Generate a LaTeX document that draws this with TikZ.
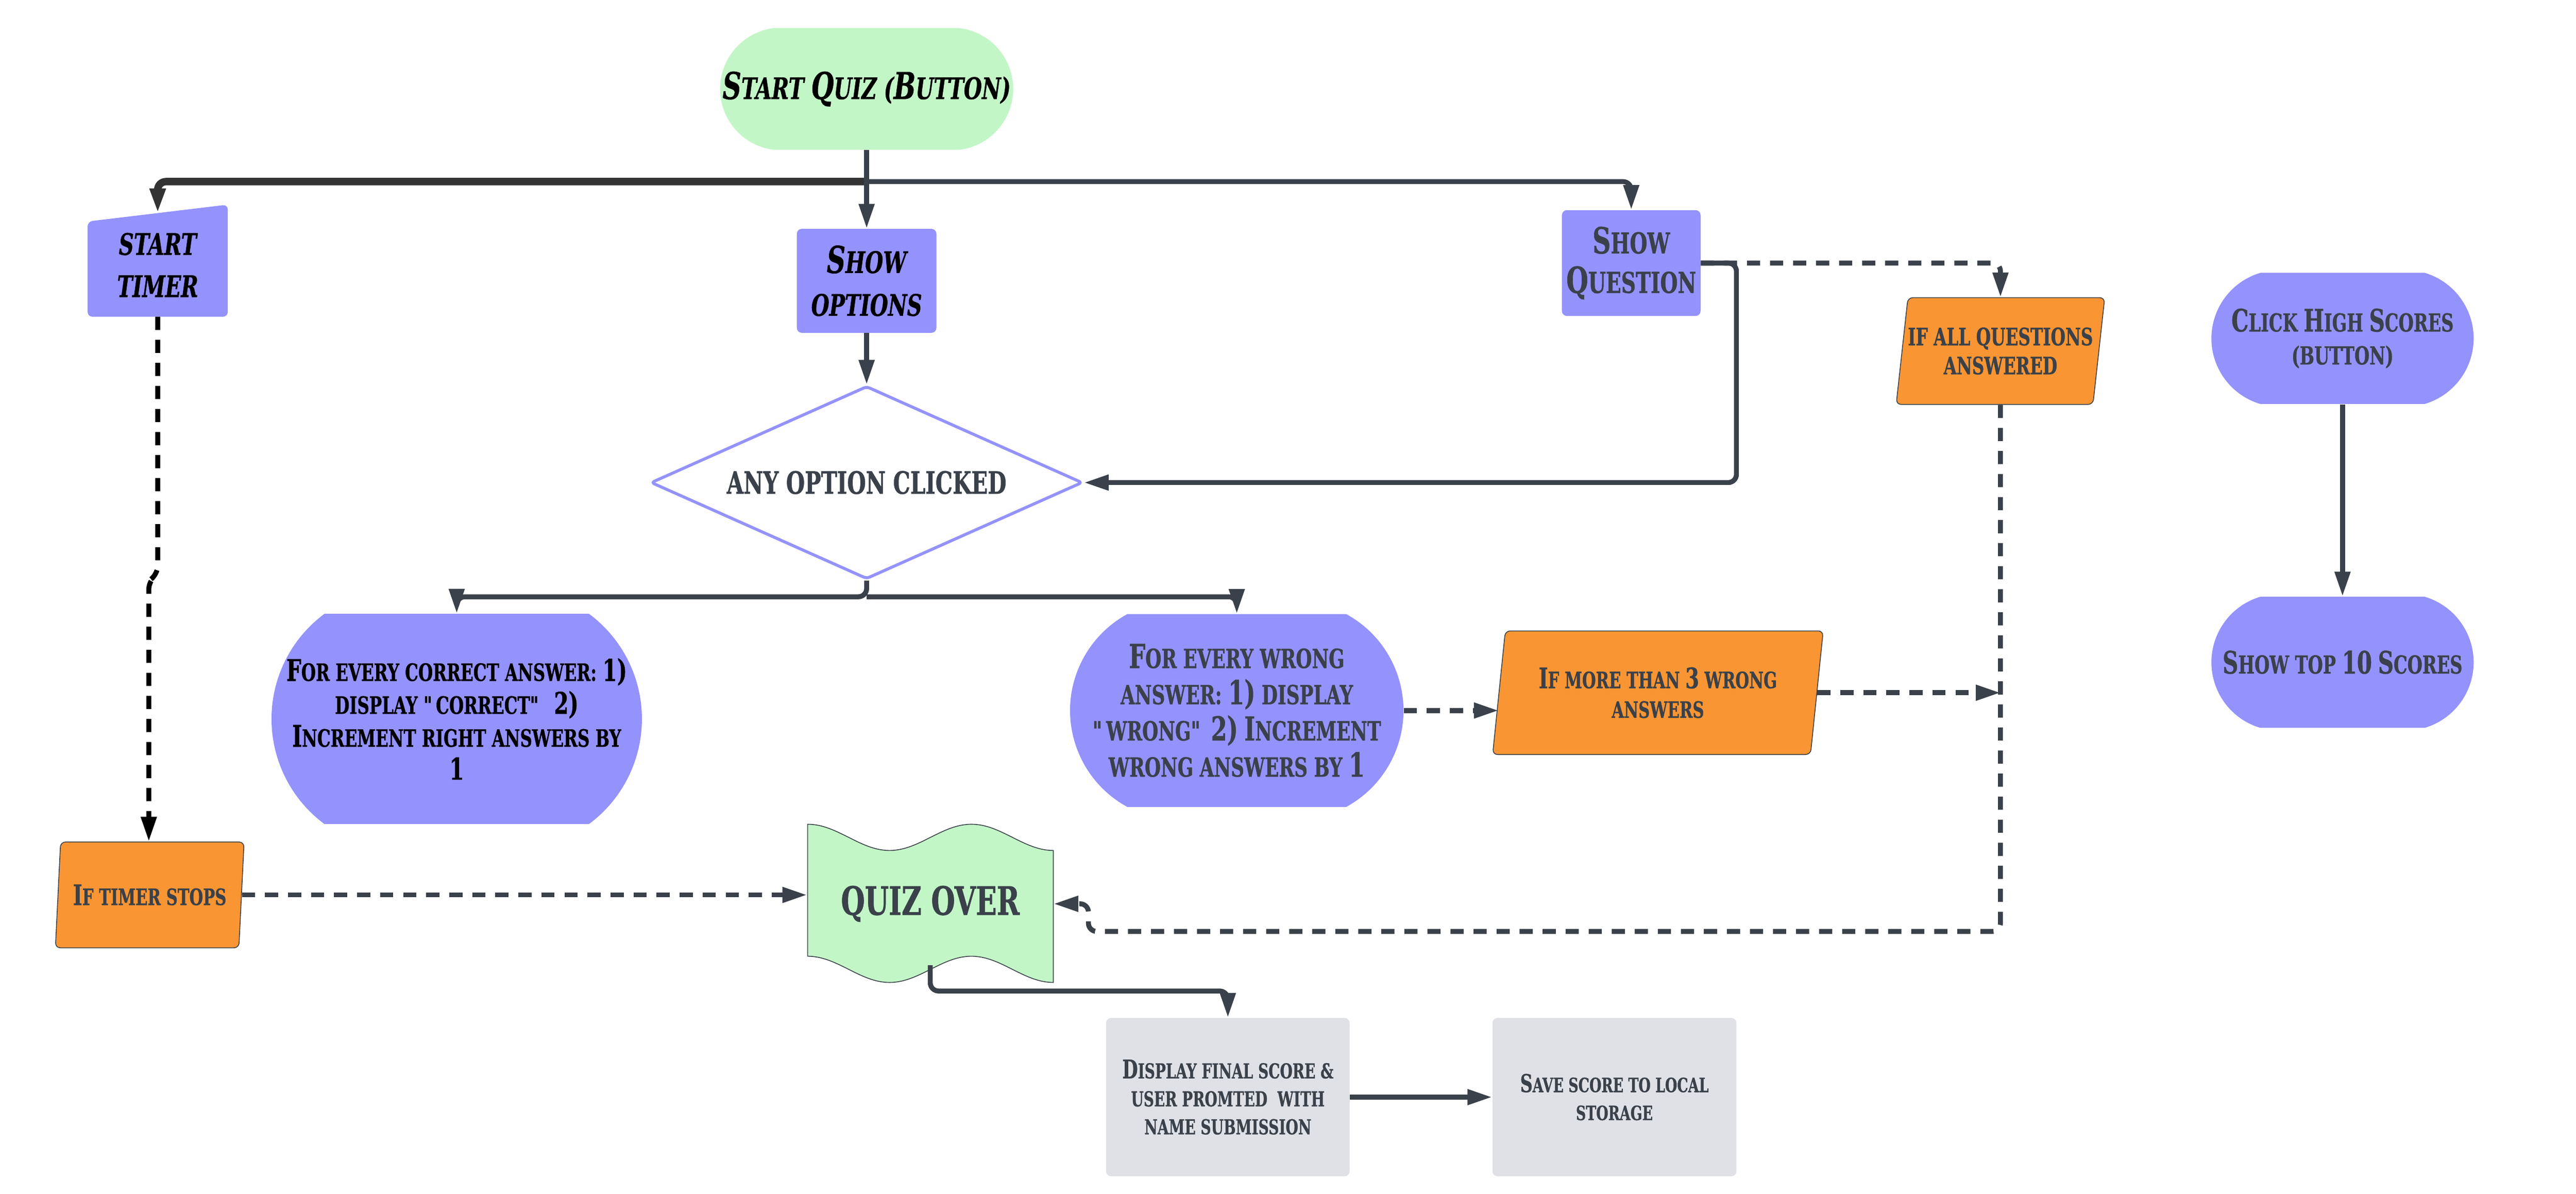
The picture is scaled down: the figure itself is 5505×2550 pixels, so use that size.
\documentclass[tikz,border=0pt]{standalone}
\usepackage{fontspec}
\setmainfont{DejaVu Serif}[FakeStretch=0.7, UprightFont=* Bold, ItalicFont=* Bold Italic,
  UprightFeatures={FakeBold=0.8}, ItalicFeatures={FakeBold=0.8}]
\usetikzlibrary{arrows.meta,shapes.geometric,shapes.misc,backgrounds}
\definecolor{qpurple}{RGB}{148,146,252}
\definecolor{qgreen}{RGB}{195,246,199}
\definecolor{qorange}{RGB}{249,149,51}
\definecolor{qgray}{RGB}{223,225,230}
\definecolor{qline}{RGB}{58,65,74}
\definecolor{qbar}{RGB}{51,51,51}
\newcommand\Ini[1]{\scalebox{1.25}{#1}}
\newcommand\fs[2]{\fontsize{#1pt}{#2pt}\selectfont}
\begin{document}
\begin{tikzpicture}[x=0.01cm, y=-0.01cm,
    pill/.style={rounded rectangle, fill=qpurple, text=qline, align=center, inner sep=0pt},
    tile/.style={rectangle, rounded corners=3pt, fill=qpurple, text=qline, align=center, inner sep=0pt},
    gbox/.style={tile, fill=qgray},
    cond/.style={trapezium, trapezium left angle=76, trapezium right angle=104, trapezium stretches body,
      fill=qorange, draw=qline, line width=0.5pt, rounded corners=3pt, align=center, text=qline, inner sep=0pt},
    conn/.style={draw=qline, line width=3pt, -{Triangle[length=15pt,width=9pt]}, rounded corners=5pt},
    dconn/.style={conn, dash pattern=on 8pt off 6pt}]
  \useasboundingbox (0,0) rectangle (5505,2550);

  % top row
  \node[pill, fill=qgreen, text=black, minimum width=5.94cm, minimum height=2.6cm,
    rounded rectangle arc length=166, font=\itshape\fs{18}{22}] (start) at (1852,190)
    {\Ini{S}TART \Ini{Q}UIZ (\Ini{B}UTTON)};
  \node[tile, fill=none, text=black, minimum width=2.98cm, minimum height=2.2cm,
    font=\itshape\fs{18}{25.6}] (timer) at (337,566) {START\\TIMER};
  \node[tile, text=black, minimum width=2.98cm, minimum height=2.22cm,
    font=\itshape\fs{18}{26}] (options) at (1852,600) {\Ini{S}HOW\\OPTIONS};
  \node[tile, minimum width=2.96cm, minimum height=2.26cm, font=\fs{17.5}{24}] (question) at (3486,562)
    {\Ini{S}HOW\\\Ini{Q}UESTION};
  \node[cond, minimum width=4.44cm, minimum height=2.28cm, font=\fs{14.6}{17.6}] (allq) at (4275,750)
    {IF ALL QUESTIONS\\ANSWERED};

  % high scores
  \node[pill, minimum width=5.6cm, minimum height=2.8cm, rounded rectangle arc length=147,
    font=\fs{15}{20}] (click) at (5006,723) {\Ini{C}LICK \Ini{H}IGH \Ini{S}CORES\\(BUTTON)};
  \node[pill, minimum width=5.6cm, minimum height=2.8cm, rounded rectangle arc length=147,
    font=\fs{15}{20}] (top10) at (5006,1415) {\Ini{S}HOW TOP \Ini{10} \Ini{S}CORES};

  % decision and answers
  \node[diamond, draw=qpurple, line width=1.8pt, fill=white, minimum width=9.22cm, minimum height=4.12cm,
    aspect=2.24, inner sep=0pt, text=qline, rounded corners=2pt, font=\fs{18.7}{22}] (anyopt) at (1852,1031)
    {ANY OPTION CLICKED};
  \node[pill, text=black, minimum width=7.46cm, minimum height=4.49cm, rounded rectangle arc length=107,
    font=\fs{14.5}{20}] (correct) at (976,1536)
    {\Ini{F}OR EVERY CORRECT ANSWER: \Ini{1)}\\DISPLAY \textquotedbl CORRECT\textquotedbl~~\Ini{2)}\\\Ini{I}NCREMENT RIGHT ANSWERS BY\\\Ini{1}};
  \node[pill, minimum width=7.12cm, minimum height=4.12cm, rounded rectangle arc length=123,
    font=\fs{16}{22}] (wrong) at (2643,1518)
    {\Ini{F}OR EVERY WRONG\\ANSWER: \Ini{1)} DISPLAY\\\textquotedbl WRONG\textquotedbl{} \Ini{2)} \Ini{I}NCREMENT\\WRONG ANSWERS BY \Ini{1}};
  \node[cond, minimum width=7.06cm, minimum height=2.64cm, font=\fs{13.7}{18}] (more3) at (3543,1480)
    {\Ini{I}F MORE THAN \Ini{3} WRONG\\ANSWERS};
  \node[cond, minimum width=4.03cm, minimum height=2.26cm, font=\fs{13.7}{18}] (timerstop) at (320,1912)
    {\Ini{I}F TIMER STOPS};

  % end of quiz
  \node[minimum width=5.25cm, minimum height=3.41cm, text=qline, font=\fs{23.8}{28}] (quizover) at (1988,1931)
    {QUIZ OVER};
  \node[gbox, minimum width=5.2cm, minimum height=3.38cm, font=\fs{12.5}{17}] (final) at (2624,2344)
    {\Ini{D}ISPLAY FINAL SCORE \&\\USER PROMTED~~WITH\\NAME SUBMISSION};
  \node[gbox, minimum width=5.21cm, minimum height=3.38cm, font=\fs{12}{17}] (save) at (3450,2344)
    {\Ini{S}AVE SCORE TO LOCAL\\STORAGE};

  \begin{scope}[on background layer]
    \fill[qpurple, rounded corners=3pt] (timer.south west) -- ([yshift=-0.18cm]timer.north west)
      -- ([yshift=0.18cm]timer.north east) -- (timer.south east) -- cycle;
    \begin{scope}[shift={(quizover.center)}]
      \draw[qline, fill=qgreen, line width=0.5pt]
        plot[domain=0:3, samples=49, smooth] ({-262+175*\x}, {-142-28*cos(180*\x)})
        -- plot[domain=3:0, samples=49, smooth] ({-262+175*\x}, {140-28*cos(180*\x)}) -- cycle;
    \end{scope}
  \end{scope}

  % connectors
  \coordinate (split) at (1852,388);
  \coordinate (fork) at (1852,1275);
  \coordinate (back) at (2326,1990);
  \draw[conn, draw=qbar, line width=4.5pt] (split) -| (timer.north);
  \draw[conn] (split) -| (question.north);
  \draw[conn] (start.south) -- (options.north);
  \draw[conn] (options.south) -- (anyopt.north);
  \draw[conn] (question.east) -- ++(76,0) |- (anyopt.east);
  \draw[dconn] (question.east) -| (allq.north);
  \draw[conn] (anyopt.south) -- (fork) -| (correct.north);
  \draw[conn] (fork) -| (wrong.north);
  \draw[dconn] (wrong.east) -- (wrong.east -| more3.west);
  \draw[dconn] (more3.east) -- (more3.east -| allq.south);
  \draw[dconn] (allq.south) |- (back) |- (quizover.east);
  \draw[dconn, draw=black] (timer.south) -- ++(0,550) -- ++(-19,14) coordinate (jog) -- (jog |- timerstop.north);
  \draw[dconn] (timerstop.east) -- (timerstop.east -| quizover.west);
  \draw[conn] ([yshift=0.4cm]quizover.south) -- ++(0,55) -| (final.north);
  \draw[conn] (final.east) -- (save.west);
  \draw[conn] (click.south) -- (top10.north);
\end{tikzpicture}
\end{document}
